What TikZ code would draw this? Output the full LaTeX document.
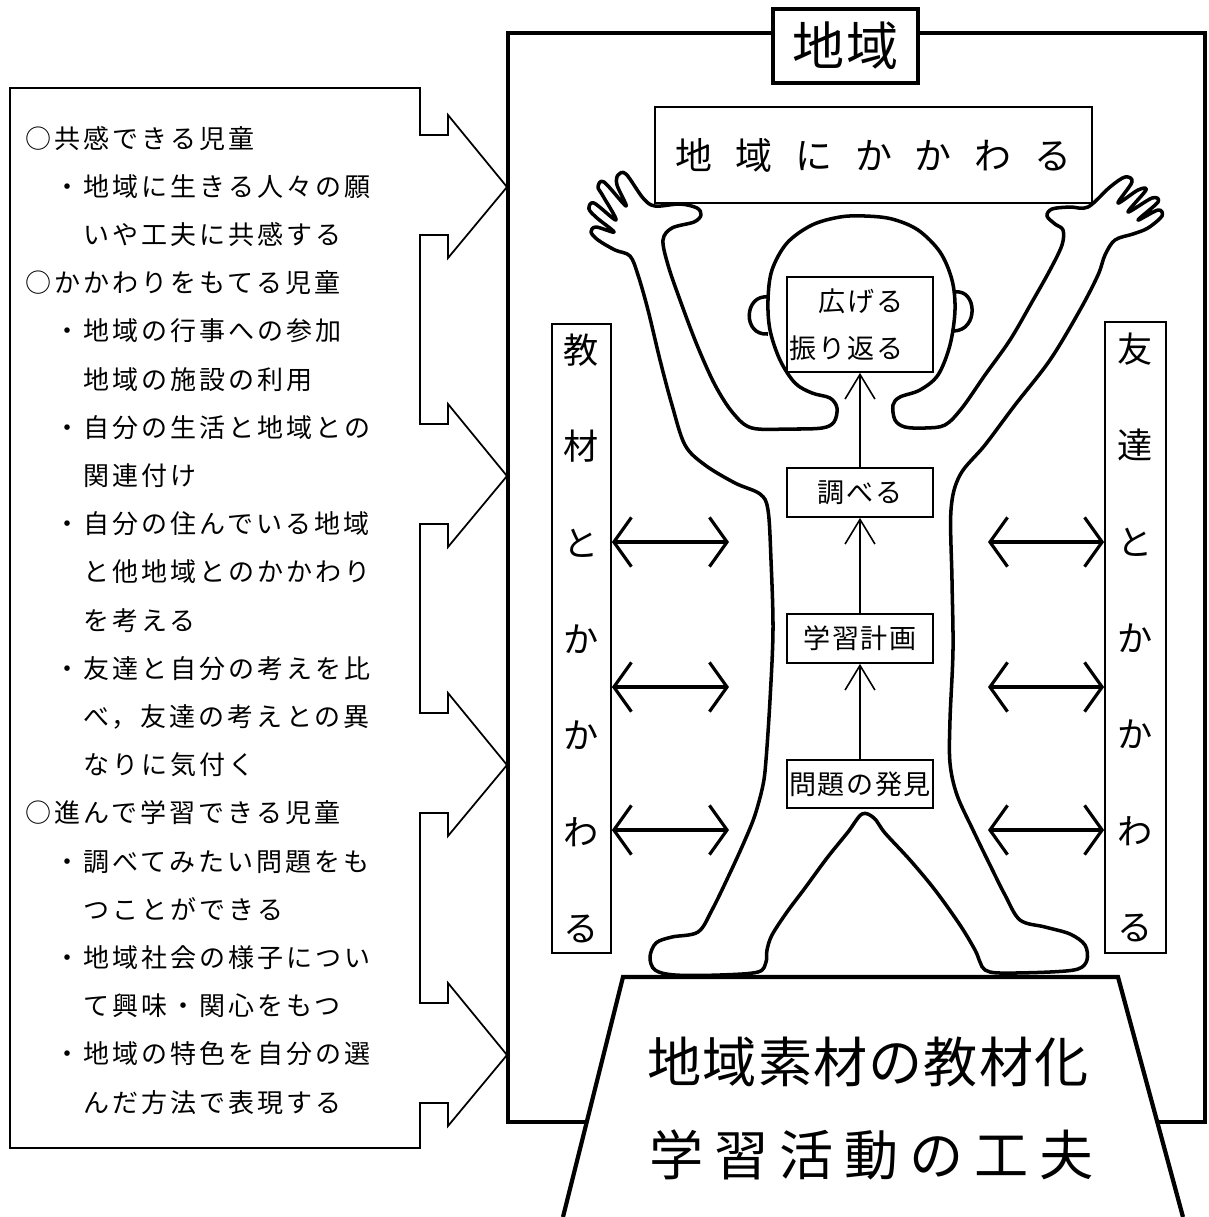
\documentclass[tikz,border=0pt]{standalone}
\usepackage{fontspec}
\newfontfamily\jp{Noto Sans CJK JP}
\usetikzlibrary{arrows.meta}

\begin{document}
\begin{tikzpicture}[x=0.01cm, y=-0.01cm,
    heavy/.style={line width=1.2pt},
    lightline/.style={line width=0.5pt},
    stepbox/.style={draw, line width=0.5pt, fill=white, minimum width=1.46cm, inner sep=0pt,
      font=\jp\fontsize{7.7pt}{13.4pt}\selectfont\addfontfeature{LetterSpace=6}},
    vbox/.style={draw, line width=0.5pt, inner sep=0pt, align=center,
      font=\jp\fontsize{10pt}{27.4pt}\selectfont},
    dblarrow/.style={line width=0.9pt, >={Straight Barb[length=5pt,width=14pt]}, <->},
    uparrow/.style={line width=0.45pt, >={Straight Barb[length=7pt,width=8.5pt]}, ->},
    listline/.style={anchor=base west, inner sep=0pt,
      font=\jp\fontsize{7.4pt}{7.4pt}\selectfont\addfontfeature{LetterSpace=11.5}}]
  \useasboundingbox (0,0) rectangle (1209,1217);

  % region frame and the stand
  \draw[heavy] (508,33) rectangle (1205,1122);
  \draw[heavy, fill=white] (563,1217) -- (623,977) -- (1118,977) -- (1183,1217);
  \node[draw, heavy, fill=white, minimum width=1.45cm, minimum height=0.74cm, inner sep=0pt,
    font=\jp\fontsize{14.8pt}{14.8pt}\selectfont\addfontfeature{LetterSpace=5}] (region) at (845.5,46) {地域};

  % the child
  \draw[line width=1pt, line join=round, fill=white] plot[smooth cycle, tension=0.55] coordinates {
    (862,814) (848,832) (827,858) (805,888) (787,912) (772,935)
    (767,950) (766,962) (758,972) (720,975) (675,975) (655,970)
    (650,957) (656,943) (672,937) (698,932)
    (712,910) (730,873) (745,840) (755,815) (763,785) (766,760)
    (770,700) (773,630) (771,560) (768,510)
    (760,494) (735,483) (705,465) (685,445)
    (672,405) (660,360) (648,310) (638,275) (630,256)
    (615,250) (598,240) (591,232) (596,227) (614,232)
    (597,218) (589,209) (594,203) (616,220)
    (603,196) (598,187) (604,182) (626,206)
    (617,185) (618,175) (626,174) (643,198)
    (655,206) (680,204) (697,208) (701,215) (694,222) (672,228) (663,240)
    (668,265) (680,300) (697,345) (715,385) (733,413) (752,428)
    (790,429) (822,428) (834,422) (837,408)
    (830,398) (812,393) (795,383)
    (780,360) (770,330) (768,300) (772,270) (787,243) (812,225) (840,217)
    (865,216) (892,219) (918,230) (940,252) (952,280) (955,310) (950,345)
    (938,375) (920,390) (900,397)
    (893,405) (895,420) (905,427) (925,428) (945,425)
    (962,408) (985,375) (1010,340) (1032,302) (1050,270) (1062,245) (1063,230)
    (1055,224) (1047,216) (1052,209) (1070,207) (1088,207)
    (1110,187) (1125,177) (1132,182) (1118,203)
    (1138,190) (1146,190) (1128,212)
    (1152,198) (1158,202) (1138,220)
    (1158,210) (1162,216) (1148,228)
    (1133,234) (1115,240) (1105,255)
    (1098,275) (1080,310) (1050,360) (1015,405) (985,445) (960,475)
    (951,510) (952,580) (953,650) (950,720) (950,763)
    (957,795) (973,830) (990,865) (1005,895) (1020,920)
    (1045,927) (1070,934) (1085,945) (1087,960) (1078,969) (1050,972)
    (1000,973) (985,970) (980,962) (975,950)
    (960,925) (935,890) (910,860) (885,833) (874,818)};
  % ears
  \draw[line width=1pt] (768,297) .. controls (744,294) and (742,336) .. (768,334);
  \draw[line width=1pt] (955,292) .. controls (977,289) and (979,330) .. (954,331);

  \node[draw, lightline, fill=white, minimum width=4.37cm, minimum height=0.96cm, inner sep=0pt,
    font=\jp\fontsize{10.5pt}{10.5pt}\selectfont\addfontfeature{LetterSpace=62}] (kakawaru) at (873.5,155) {地域にかかわる};

  % steps of the learning
  \node[stepbox, minimum height=0.95cm, text width=1.40cm, align=left] (hirogeru) at (860,324.5) {　広げる\\振り返る};
  \node[stepbox, minimum height=0.49cm] (shiraberu) at (860,492.5) {調べる};
  \node[stepbox, minimum height=0.49cm] (keikaku) at (860,638.5) {学習計画};
  \node[stepbox, minimum height=0.48cm] (hakken) at (860,784) {問題の発見};
  \draw[uparrow] (hakken) -- (keikaku);
  \draw[uparrow] (keikaku) -- (shiraberu);
  \draw[uparrow] (shiraberu) -- (hirogeru);

  % both sides
  \node[vbox, minimum width=0.59cm, minimum height=6.29cm] (kyozai) at (581.5,638.5) {教\\材\\と\\か\\か\\わ\\る};
  \node[vbox, minimum width=0.61cm, minimum height=6.31cm] (tomodachi) at (1135.5,637.5) {友\\達\\と\\か\\か\\わ\\る};
  \foreach \y [count=\i] in {542,687,830} {
    \coordinate (kL\i) at (729,\y);
    \coordinate (tR\i) at (988,\y);
    \draw[dblarrow] (kyozai.east |- kL\i) -- (kL\i);
    \draw[dblarrow] (tR\i) -- (tomodachi.west |- tR\i);
  }

  \node[font=\jp\fontsize{15.4pt}{15.4pt}\selectfont\addfontfeature{LetterSpace=2}] (sozai) at (868,1062) {地域素材の教材化};
  \node[font=\jp\fontsize{15.4pt}{15.4pt}\selectfont\addfontfeature{LetterSpace=20}] (katsudo) at (872,1155) {学習活動の工夫};

  % aims, with arrows into the region
  \draw[lightline] (10,88) -- (420,88)
    \foreach \t in {187,476,765,1055} {
      -- (420,\t-52) -- (448,\t-52) -- (448,\t-72) -- (507,\t)
      -- (448,\t+71) -- (448,\t+48) -- (420,\t+48) }
    -- (420,1148) -- (10,1148) -- cycle;
  \foreach \ind/\txt [count=\i] in {
      0/○共感できる児童, 1/・地域に生きる人々の願, 2/いや工夫に共感する,
      0/○かかわりをもてる児童, 1/・地域の行事への参加, 2/地域の施設の利用,
      1/・自分の生活と地域との, 2/関連付け,
      1/・自分の住んでいる地域, 2/と他地域とのかかわり, 2/を考える,
      1/・友達と自分の考えを比, 2/べ，友達の考えとの異, 2/なりに気付く,
      0/○進んで学習できる児童, 1/・調べてみたい問題をも, 2/つことができる,
      1/・地域社会の様子につい, 2/て興味・関心をもつ,
      1/・地域の特色を自分の選, 2/んだ方法で表現する}
    \node[listline] (item\i) at (25+29*\ind, 99.8+48.2*\i) {\txt};
\end{tikzpicture}
\end{document}
